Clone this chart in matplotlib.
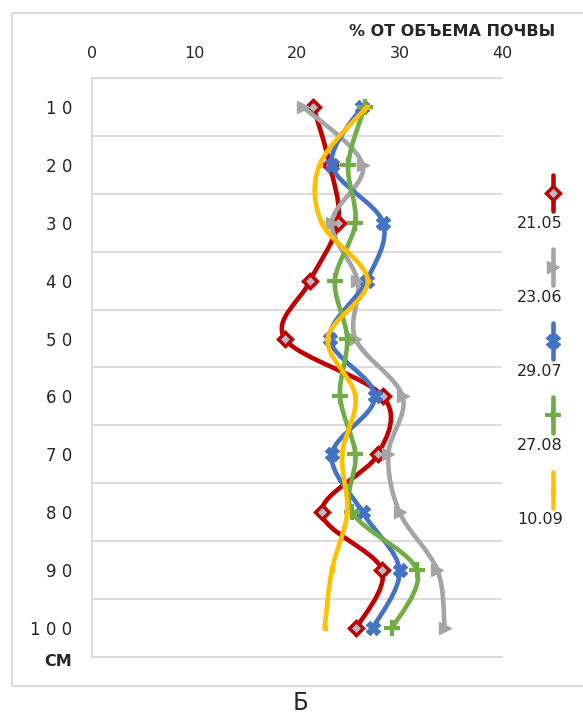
import numpy as np
import matplotlib
matplotlib.use("Agg")
import matplotlib.pyplot as plt
from matplotlib.path import Path
from matplotlib.patches import PathPatch, Rectangle
from matplotlib.lines import Line2D

# ---- data ----
depths = [10, 20, 30, 40, 50, 60, 70, 80, 90, 100]
depth_labels = ["1 0", "2 0", "3 0", "4 0", "5 0", "6 0", "7 0", "8 0", "9 0", "1 0 0"]
series_names = ["21.05", "23.06", "29.07", "27.08", "10.09"]
s_2105 = [21.6, 23.2, 24.0, 21.3, 18.8, 28.4, 27.9, 22.4, 28.3, 25.8]
s_2306 = [20.6, 26.4, 23.4, 25.9, 25.7, 30.3, 28.9, 30.0, 33.7, 34.4]
s_2907 = [26.3, 23.4, 28.4, 26.8, 23.2, 27.6, 23.4, 26.4, 30.0, 27.4]
s_2708 = [26.6, 25.0, 25.7, 23.7, 24.9, 24.2, 25.7, 25.4, 31.7, 29.3]
s_1009 = [26.8, 22.2, 22.4, 26.9, 23.0, 25.7, 24.4, 24.9, 23.4, 22.7]
x_ticks = [0, 10, 20, 30, 40]
x_title = "% ОТ ОБЪЕМА ПОЧВЫ"
unit_label = "СМ"
panel_label = "Б"

colors = ["#c00000", "#a5a5a5", "#4472c4", "#70ad47", "#ffc000"]
markers = [dict(marker="D", ms=7, mfc="#b8b8c8", mec="#c00000", mew=2.5),
           dict(marker=">", ms=9, mfc="#a5a5a5", mec="#a5a5a5", mew=1),
           dict(marker="X", ms=10, mfc="#4472c4", mec="#4472c4", mew=1),
           dict(marker="+", ms=11, mfc="#70ad47", mec="#70ad47", mew=3),
           dict(marker="s", ms=3.5, mfc="#ffc000", mec="#ffc000", mew=1)]
all_series = [s_2105, s_2306, s_2907, s_2708, s_1009]

W, H = 583, 715
fig = plt.figure(figsize=(W / 100, H / 100), dpi=100)

# overlay axes in pixel coordinates for frame / legend / captions
ov = fig.add_axes([0, 0, 1, 1])
ov.set_xlim(0, W)
ov.set_ylim(H, 0)
ov.axis("off")
ov.patch.set_alpha(0)
ov.add_patch(Rectangle((12, 13), 600, 673, fill=False, ec="#d9d9d9", lw=1.3))

ax = fig.add_axes([92 / W, 1 - 657 / H, 410 / W, 579 / H])
ax.patch.set_alpha(0)


def smooth_path(xs, ys):
    pts = np.column_stack([xs, ys]).astype(float)
    n = len(pts)
    verts = [pts[0]]
    codes = [Path.MOVETO]
    for i in range(n - 1):
        p0 = pts[i - 1] if i > 0 else pts[i]
        p1 = pts[i]
        p2 = pts[i + 1]
        p3 = pts[i + 2] if i + 2 < n else pts[i + 1]
        c1 = p1 + (p2 - p0) / 6.0
        c2 = p2 - (p3 - p1) / 6.0
        verts += [c1, c2, p2]
        codes += [Path.CURVE4] * 3
    return Path(verts, codes)


for k, (vals, col, mk) in enumerate(zip(all_series, colors, markers)):
    ax.add_patch(PathPatch(smooth_path(vals, depths), fill=False, ec=col,
                           lw=3.3, capstyle="round", joinstyle="round", zorder=3 + k))
    ax.plot(vals, depths, ls="none", zorder=3.5 + k, **mk)

ax.set_xlim(0, 40)
ax.set_ylim(105, 5)
ax.xaxis.tick_top()
ax.set_xticks(x_ticks)
ax.set_xticklabels([str(t) for t in x_ticks], fontsize=11.5, family="DejaVu Sans", color="#262626")
ax.tick_params(axis="x", length=0, pad=12)
ax.set_yticks(depths)
ax.set_yticklabels(depth_labels, fontsize=12, family="DejaVu Sans", color="#262626")
ax.tick_params(axis="y", length=0, pad=14)
ax.set_yticks(np.arange(15, 100, 10), minor=True)
ax.tick_params(axis="y", which="minor", length=0)
ax.grid(True, axis="y", which="minor", color="#d9d9d9", lw=1.3)
for side in ["left", "top", "bottom"]:
    ax.spines[side].set_color("#d9d9d9")
    ax.spines[side].set_linewidth(1.3)
ax.spines["right"].set_visible(False)

# captions
ov.text(555, 32, x_title, ha="right", va="center", fontsize=11.5, fontweight="bold",
        family="DejaVu Sans", color="#262626")
ov.text(72, 661, unit_label, ha="right", va="center", fontsize=11.5, fontweight="bold",
        family="DejaVu Sans", color="#262626")
ov.text(300, 703, panel_label, ha="center", va="center", fontsize=18,
        family=["Noto Sans", "DejaVu Sans"], color="#262626")

# legend (vertical samples with labels beneath)
leg_top = [175, 249, 323, 397, 472]
for name, col, mk, top in zip(series_names, colors, markers, leg_top):
    ov.add_line(Line2D([553, 553], [top, top + 36], color=col, lw=3.3,
                       solid_capstyle="round"))
    ov.plot([553], [top + 18], ls="none", **mk)
    ov.text(540, top + 48, name, ha="center", va="center", fontsize=11.5,
            family="DejaVu Sans", color="#262626")

fig.savefig("out.png", dpi=100)
